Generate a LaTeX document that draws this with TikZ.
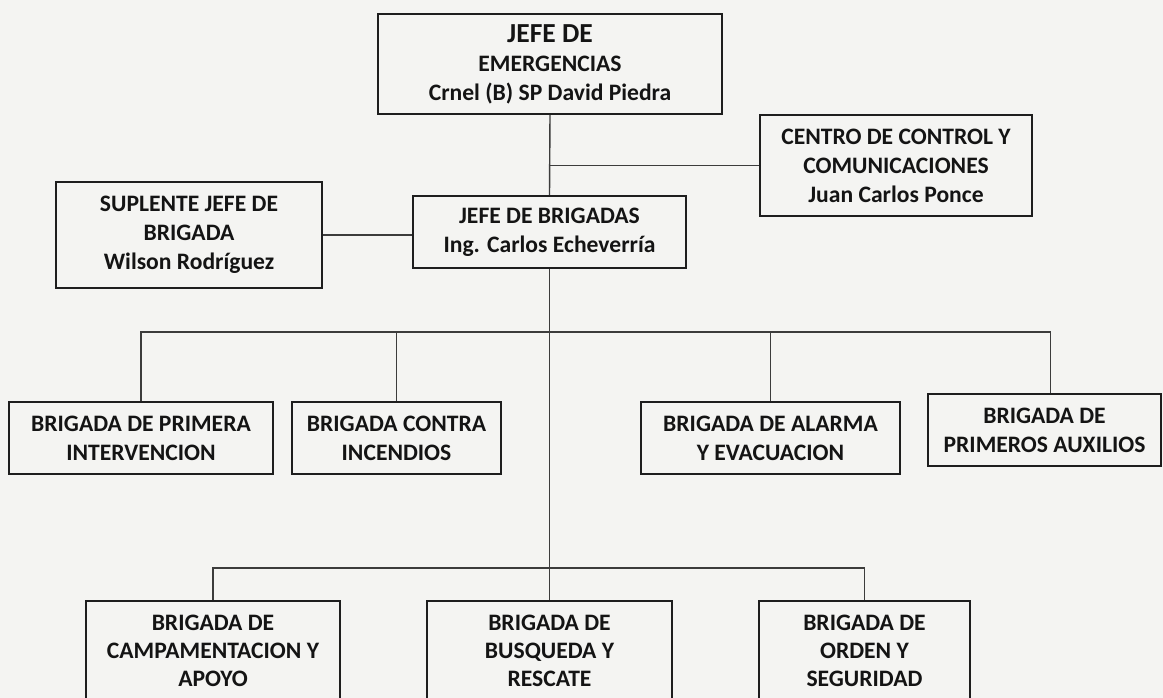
\documentclass[tikz,border=0pt]{standalone}
\usepackage{fontspec}
\setmainfont{Carlito}
\definecolor{bg}{RGB}{244,244,242}
\definecolor{boxc}{RGB}{30,30,30}
\definecolor{linec}{RGB}{60,60,60}
\definecolor{txt}{RGB}{20,20,20}
\begin{document}
\begin{tikzpicture}[x=1pt,y=-1pt,
  box/.style={draw=boxc, line width=2pt, align=center, text=txt, inner sep=0pt,
    font=\fontsize{23.6}{29}\selectfont\bfseries},
  conn/.style={draw=linec, line width=1.4pt}]
\clip (0,0) rectangle (1163,698);
\fill[bg] (0,0) rectangle (1163,698);
% top
\node[box, minimum width=344pt, minimum height=100pt] (jefe) at (550,64)
  {{\fontsize{27.5}{29}\selectfont JEFE DE}\\EMERGENCIAS\\Crnel (B) SP David Piedra};
\node[box, minimum width=272pt, minimum height=101pt] (centro) at (896,165.5)
  {CENTRO DE CONTROL Y\\COMUNICACIONES\\Juan Carlos Ponce};
\node[box, minimum width=266pt, minimum height=106pt] (sup) at (189,235)
  {SUPLENTE JEFE DE\\BRIGADA\\Wilson Rodríguez};
\node[box, minimum width=273pt, minimum height=72pt] (jdb) at (549.5,232)
  {JEFE DE BRIGADAS\\Ing. Carlos Echeverría};
% middle row
\node[box, minimum width=264pt, minimum height=72pt] (bpi) at (141,438)
  {BRIGADA DE PRIMERA\\INTERVENCION};
\node[box, minimum width=209pt, minimum height=72pt] (bci) at (396.5,438)
  {BRIGADA CONTRA\\INCENDIOS};
\node[box, minimum width=259pt, minimum height=72pt] (bae) at (770.5,438)
  {BRIGADA DE ALARMA\\Y EVACUACION};
\node[box, minimum width=233pt, minimum height=72pt] (bpa) at (1044.5,430)
  {BRIGADA DE\\PRIMEROS AUXILIOS};
% bottom row
\node[box, minimum width=254pt, minimum height=100pt,
  font=\fontsize{23.6}{28}\selectfont\bfseries] (camp) at (213,651)
  {BRIGADA DE\\CAMPAMENTACION Y\\APOYO};
\node[box, minimum width=245pt, minimum height=100pt,
  font=\fontsize{23.6}{28}\selectfont\bfseries] (bus) at (549.5,651)
  {BRIGADA DE\\BUSQUEDA Y\\RESCATE};
\node[box, minimum width=211pt, minimum height=100pt,
  font=\fontsize{23.6}{28}\selectfont\bfseries] (ord) at (864.5,651)
  {BRIGADA DE\\ORDEN Y\\SEGURIDAD};
% connectors
\coordinate (h1) at (550,332);
\coordinate (h2) at (550,568);
\draw[conn] (jefe.south) -- (jdb.north);
\draw[conn] (jefe.south |- centro.west) -- (centro.west);
\draw[conn] (sup.east) -- (sup.east -| jdb.west);
\draw[conn] (jdb.south) -- (bus.north);
\draw[conn] (bpi.north) |- (h1) -| ([xshift=6pt]bpa.north);
\draw[conn] (bci.north) -- (bci.north |- h1);
\draw[conn] (bae.north) -- (bae.north |- h1);
\draw[conn] (camp.north) |- (h2) -| (ord.north);
\end{tikzpicture}
\end{document}
